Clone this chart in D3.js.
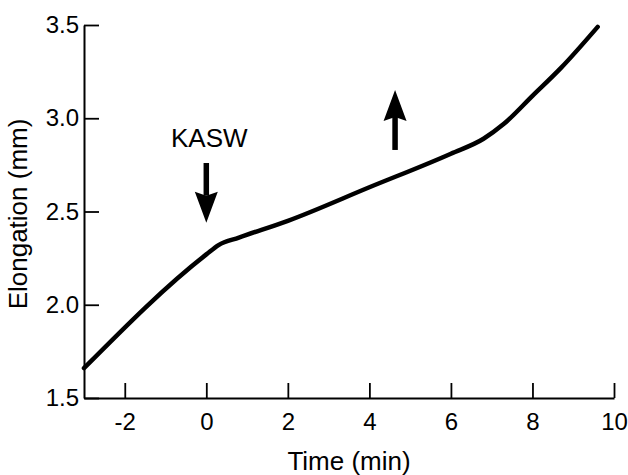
<!DOCTYPE html>
<html>
<head>
<meta charset="utf-8">
<script src="https://cdn.jsdelivr.net/npm/d3@7"></script>
<style>
  body { margin: 0; background: #fff; }
  svg { display: block; font-family: "Liberation Sans", Arial, sans-serif; }
</style>
</head>
<body>
<svg id="chart" width="628" height="475"></svg>
<script>
// ---- data ----
const times = [-3, 0, 0.3, 0.8, 2, 4, 6, 6.8, 7.3, 8, 8.7, 9.6];
const elongation = [1.66, 2.27, 2.32, 2.36, 2.45, 2.63, 2.81, 2.89, 2.97, 3.12, 3.27, 3.49];
const xTicks = [-2, 0, 2, 4, 6, 8, 10];
const yTicks = [1.5, 2.0, 2.5, 3.0, 3.5];
const arrowTimes = [0, 4.63];
const arrowFrom = [2.76, 2.83];
const arrowTo = [2.44, 3.152];
const arrowLabels = ["KASW", ""];
const xTitle = "Time (min)";
const yTitle = "Elongation (mm)";

// ---- layout ----
const svg = d3.select("#chart");
const x = d3.scaleLinear().domain([-3, 10]).range([84, 614]);
const y = d3.scaleLinear().domain([1.5, 3.5]).range([398, 25]);

const xAxis = svg.append("g")
  .attr("transform", `translate(0,${y(1.5)})`)
  .call(d3.axisBottom(x).tickValues(xTicks).tickFormat(d3.format("d"))
        .tickSizeInner(-15).tickSizeOuter(0).tickPadding(15));
const yAxis = svg.append("g")
  .attr("transform", `translate(${x(-3)},0)`)
  .call(d3.axisLeft(y).tickValues(yTicks).tickFormat(d3.format(".1f"))
        .tickSizeInner(-15).tickSizeOuter(0).tickPadding(5));

[xAxis, yAxis].forEach(g => {
  g.select(".domain").attr("stroke", "#000").attr("stroke-width", 2);
  g.selectAll(".tick line").attr("stroke", "#000").attr("stroke-width", 1.8);
  g.selectAll(".tick text").attr("fill", "#000")
    .style("font-size", "24px").style("font-family", "'Liberation Sans', Arial, sans-serif");
});
xAxis.selectAll(".tick text").text(d => d < 0 ? "-" + Math.abs(d) : d);

// titles
svg.append("text")
  .attr("x", 349).attr("y", 470)
  .attr("text-anchor", "middle")
  .style("font-size", "26px")
  .text(xTitle);
svg.append("text")
  .attr("transform", `translate(27,${(118 + 310) / 2}) rotate(-90)`)
  .attr("text-anchor", "middle")
  .style("font-size", "26px")
  .text(yTitle);

// data line
const pts = times.map((t, i) => [t, elongation[i]]);
svg.append("path")
  .datum(pts)
  .attr("fill", "none")
  .attr("stroke", "#000")
  .attr("stroke-width", 4.5)
  .attr("stroke-linecap", "round")
  .attr("d", d3.line().x(d => x(d[0])).y(d => y(d[1])).curve(d3.curveMonotoneX));

// arrows
arrowTimes.forEach((t, i) => {
  const cx = x(t);
  const y0 = y(arrowFrom[i]);
  const y1 = y(arrowTo[i]);
  const dir = y1 > y0 ? 1 : -1;
  const headLen = 31, headW = 11.5, notch = 4, shaftW = 5.5;
  const baseY = y1 - dir * headLen;
  svg.append("rect")
    .attr("x", cx - shaftW / 2)
    .attr("y", Math.min(y0, baseY + dir * notch))
    .attr("width", shaftW)
    .attr("height", Math.abs(baseY + dir * notch - y0))
    .attr("fill", "#000");
  svg.append("path")
    .attr("d", `M${cx},${y1} L${cx - headW},${baseY} L${cx},${baseY + dir * notch} L${cx + headW},${baseY} Z`)
    .attr("fill", "#000");
  if (arrowLabels[i]) {
    svg.append("text")
      .attr("x", cx + 3).attr("y", y0 - 16)
      .attr("text-anchor", "middle")
      .style("font-size", "26px")
      .text(arrowLabels[i]);
  }
});
</script>
</body>
</html>
